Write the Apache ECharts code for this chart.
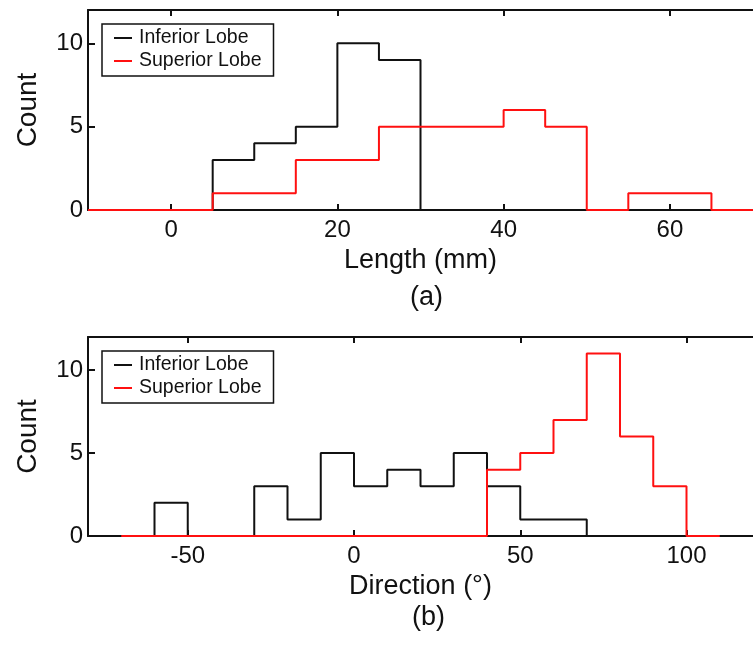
<!DOCTYPE html>
<html>
<head>
<meta charset="utf-8">
<script src="https://cdn.jsdelivr.net/npm/echarts@6/dist/echarts.min.js"></script>
<style>
  html, body { margin: 0; padding: 0; background: #fff; }
  #chart { width: 753px; height: 646px; }
</style>
</head>
<body>
<div id="chart"></div>
<script>
// (a) length histogram, bin edges in mm, count of each bin starting at that edge
const lengthEdges = [-10, -5, 0, 5, 10, 15, 20, 25, 30, 35, 40, 45, 50, 55, 60, 65, 70];
const lengthInferior = [0, 0, 0, 3, 4, 5, 10, 9, 0, 0, 0, 0, 0, 0, 0, 0, 0];
const lengthSuperior = [0, 0, 0, 1, 1, 3, 3, 5, 5, 5, 6, 5, 0, 1, 1, 0, 0];
const lengthTicks = [0, 20, 40, 60];

// (b) direction histogram, bin edges in degrees
const dirEdgesInferior = [-80, -70, -60, -50, -40, -30, -20, -10, 0, 10, 20, 30, 40, 50, 60, 70, 80, 90, 100, 110, 120];
const dirInferior = [0, 0, 2, 0, 0, 3, 1, 5, 3, 4, 3, 5, 3, 1, 1, 0, 0, 0, 0, 0, 0];
const dirEdgesSuperior = [-70, -60, -50, -40, -30, -20, -10, 0, 10, 20, 30, 40, 50, 60, 70, 80, 90, 100, 110];
const dirSuperior = [0, 0, 0, 0, 0, 0, 0, 0, 0, 0, 0, 4, 5, 7, 11, 6, 3, 0, 0];
const dirTicks = [-50, 0, 50, 100];

const countTicks = [0, 5, 10];
const seriesNames = ['Inferior Lobe', 'Superior Lobe'];

const FONT = 'Liberation Sans, Arial, Helvetica, sans-serif';
const INK = '#111';
const RED = '#ff1010';

function pairs(edges, counts) {
    return edges.map((x, i) => [x, counts[i]]);
}

function xAxes(gridIndex, min, max, ticks, name) {
    const base = {
        type: 'value', gridIndex, min, max,
        splitLine: { show: false },
        axisLine: { show: true, onZero: false, lineStyle: { color: INK, width: 2 } },
        axisTick: { show: true, inside: true, length: 6, customValues: ticks, lineStyle: { color: INK, width: 2 } }
    };
    return [
        Object.assign({}, base, {
            position: 'bottom',
            name, nameLocation: 'middle', nameGap: 37,
            nameTextStyle: { fontFamily: FONT, fontSize: 27, color: INK },
            axisLabel: { customValues: ticks, margin: 8, fontFamily: FONT, fontSize: 24, color: INK }
        }),
        Object.assign({}, base, { position: 'top', axisLabel: { show: false } })
    ];
}

function yAxis(gridIndex) {
    return {
        type: 'value', gridIndex, min: 0, max: 12,
        position: 'left',
        name: 'Count', nameLocation: 'middle', nameGap: 46,
        nameTextStyle: { fontFamily: FONT, fontSize: 28, color: INK },
        splitLine: { show: false },
        axisLine: { show: true, onZero: false, lineStyle: { color: INK, width: 2 } },
        axisTick: { show: true, inside: true, length: 7, customValues: countTicks, lineStyle: { color: INK, width: 2 } },
        axisLabel: { customValues: countTicks, margin: 5, fontFamily: FONT, fontSize: 24, color: INK }
    };
}

function stairs(name, color, axisIndex, data) {
    return {
        name, type: 'line', step: 'end',
        xAxisIndex: axisIndex, yAxisIndex: axisIndex === 0 ? 0 : 1,
        data, symbol: 'none', silent: true,
        lineStyle: { color, width: 2 },
        itemStyle: { color }
    };
}

function legend(top) {
    return {
        orient: 'vertical', left: 102, top,
        data: seriesNames,
        icon: 'rect', itemWidth: 18, itemHeight: 2, itemGap: 3,
        padding: [4, 12, 5, 12],
        borderColor: INK, borderWidth: 1.5, borderRadius: 0,
        backgroundColor: '#fff',
        selectedMode: false,
        textStyle: { fontFamily: FONT, fontSize: 19.5, color: INK, padding: [0, 0, 0, 2] }
    };
}

const chart = echarts.init(document.getElementById('chart'), null, { renderer: 'canvas' });

chart.setOption({
    backgroundColor: '#fff',
    animation: false,
    grid: [
        { left: 88, top: 10, right: -6, height: 200 },
        { left: 88, top: 337, right: -7, height: 199 }
    ],
    xAxis: [
        ...xAxes(0, -10, 70, lengthTicks, 'Length (mm)'),
        ...xAxes(1, -80, 120, dirTicks, 'Direction (°)')
    ],
    yAxis: [yAxis(0), yAxis(1)],
    legend: [legend(24), legend(351)],
    series: [
        stairs(seriesNames[0], INK, 0, pairs(lengthEdges, lengthInferior)),
        stairs(seriesNames[1], RED, 0, pairs(lengthEdges, lengthSuperior)),
        stairs(seriesNames[0], INK, 2, pairs(dirEdgesInferior, dirInferior)),
        stairs(seriesNames[1], RED, 2, pairs(dirEdgesSuperior, dirSuperior))
    ],
    graphic: [
        { type: 'text', left: 410, top: 284, style: { text: '(a)', fontFamily: FONT, fontSize: 27, fill: INK } },
        { type: 'text', left: 412, top: 604, style: { text: '(b)', fontFamily: FONT, fontSize: 27, fill: INK } }
    ]
});

window.addEventListener('resize', () => chart.resize());
</script>
</body>
</html>
